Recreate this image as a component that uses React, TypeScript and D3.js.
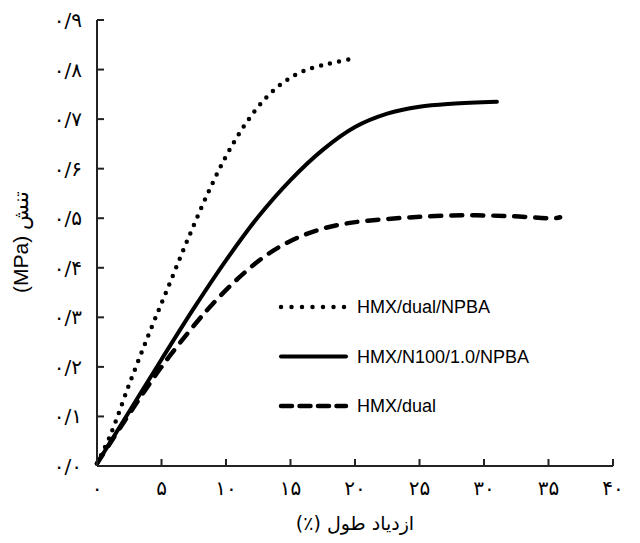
import React from "react";
import * as d3 from "d3";

// series: strain (%) and stress (MPa)
const npbaStrain = [0, 1, 2.5, 4, 5.5, 7, 8.5, 10, 11.5, 13, 14.5, 16, 18, 19.8];
const npbaStress = [0.005, 0.06, 0.165, 0.265, 0.36, 0.455, 0.545, 0.625, 0.69, 0.74, 0.775, 0.797, 0.812, 0.822];

const n100Strain = [0, 2.5, 5, 7.5, 10, 12.5, 15, 17.5, 20, 22.5, 25, 27.5, 31];
const n100Stress = [0.005, 0.11, 0.215, 0.318, 0.415, 0.503, 0.577, 0.638, 0.684, 0.711, 0.725, 0.731, 0.735];

const dualStrain = [0, 2.5, 5, 7.5, 9, 11, 13, 15, 17, 19, 21, 24.5, 28.4, 32.2, 35.5, 35.9];
const dualStress = [0.005, 0.105, 0.2, 0.283, 0.328, 0.38, 0.423, 0.454, 0.475, 0.488, 0.495, 0.502, 0.506, 0.504, 0.5, 0.502];

const seriesNames = ["HMX/dual/NPBA", "HMX/N100/1.0/NPBA", "HMX/dual"];

const xTicks = [0, 5, 10, 15, 20, 25, 30, 35, 40];
const xTickLabels = ["۰", "۵", "۱۰", "۱۵", "۲۰", "۲۵", "۳۰", "۳۵", "۴۰"];
const yTicks = [0, 0.1, 0.2, 0.3, 0.4, 0.5, 0.6, 0.7, 0.8, 0.9];
const yTickLabels = ["۰/۰", "۰/۱", "۰/۲", "۰/۳", "۰/۴", "۰/۵", "۰/۶", "۰/۷", "۰/۸", "۰/۹"];

const xTitle = "ازدیاد طول (٪)";
const yTitle = "تنش (MPa)";

const W = 640;
const H = 543;

const App = () => {
  const x = d3.scaleLinear().domain([0, 40]).range([97, 613]);
  const y = d3.scaleLinear().domain([0, 0.9]).range([466, 20]);

  const line = d3
    .line<[number, number]>()
    .x((d) => x(d[0]))
    .y((d) => y(d[1]))
    .curve(d3.curveCatmullRom.alpha(0.5));

  const zip = (a: number[], b: number[]) => a.map((v, i) => [v, b[i]] as [number, number]);

  const styles = [
    { width: 4.5, dash: "0 9.2", cap: "round" },
    { width: 4, dash: "none", cap: "round" },
    { width: 4.5, dash: "11 10", cap: "round" },
  ];
  const series = [
    zip(npbaStrain, npbaStress),
    zip(n100Strain, n100Stress),
    zip(dualStrain, dualStress),
  ];
  const legendDash = ["0 10.5", "none", "11 7.5"];

  const axisColor = "#222";
  const faFont = "'DejaVu Sans', sans-serif";

  return (
    <svg width={W} height={H} style={{ position: "absolute", left: 0, top: 0, background: "#fff" }}>
      {/* curves */}
      {series.map((s, i) => (
        <path
          key={i}
          d={line(s) || ""}
          fill="none"
          stroke="#000"
          strokeWidth={styles[i].width}
          strokeDasharray={styles[i].dash}
          strokeLinecap={styles[i].cap as any}
          strokeLinejoin="round"
        />
      ))}

      {/* axes */}
      <line x1={x(0)} x2={x(0)} y1={y(0)} y2={y(0.9)} stroke={axisColor} strokeWidth={2} />
      <line x1={x(0)} x2={x(40)} y1={y(0)} y2={y(0)} stroke={axisColor} strokeWidth={2} />
      {yTicks.map((t, i) => (
        <g key={"y" + i}>
          <line x1={x(0)} x2={x(0) + 7} y1={y(t)} y2={y(t)} stroke={axisColor} strokeWidth={2} />
          <text
            x={82}
            y={y(t)}
            dy="0.35em"
            textAnchor="end"
            fontFamily={faFont}
            fontSize={20}
            direction="ltr"
          >
            {yTickLabels[i]}
          </text>
        </g>
      ))}
      {xTicks.map((t, i) => (
        <g key={"x" + i}>
          <line x1={x(t)} x2={x(t)} y1={y(0)} y2={y(0) - 7} stroke={axisColor} strokeWidth={2} />
          <text
            x={x(t)}
            y={495}
            textAnchor="middle"
            fontFamily={faFont}
            fontSize={20}
            direction="ltr"
          >
            {xTickLabels[i]}
          </text>
        </g>
      ))}

      {/* axis titles */}
      <text
        x={355}
        y={530}
        textAnchor="middle"
        fontFamily={faFont}
        fontSize={19}
        style={{ direction: "rtl", unicodeBidi: "embed" }}
      >
        {xTitle}
      </text>
      <text
        transform="translate(28,242) rotate(-90)"
        textAnchor="middle"
        fontFamily="'Liberation Sans', Arial, sans-serif"
        fontSize={21}
        style={{ direction: "rtl", unicodeBidi: "embed" }}
      >
        {yTitle}
      </text>

      {/* legend */}
      {seriesNames.map((name, i) => {
        const ly = 307 + i * 49.5;
        return (
          <g key={"l" + i}>
            <line
              x1={281}
              x2={346}
              y1={ly}
              y2={ly}
              stroke="#000"
              strokeWidth={styles[i].width}
              strokeDasharray={legendDash[i]}
              strokeLinecap={styles[i].cap as any}
            />
            <text
              x={357}
              y={ly}
              dy="0.35em"
              fontFamily="'Liberation Sans', Arial, sans-serif"
              fontSize={18}
            >
              {name}
            </text>
          </g>
        );
      })}
    </svg>
  );
};

export default App;
